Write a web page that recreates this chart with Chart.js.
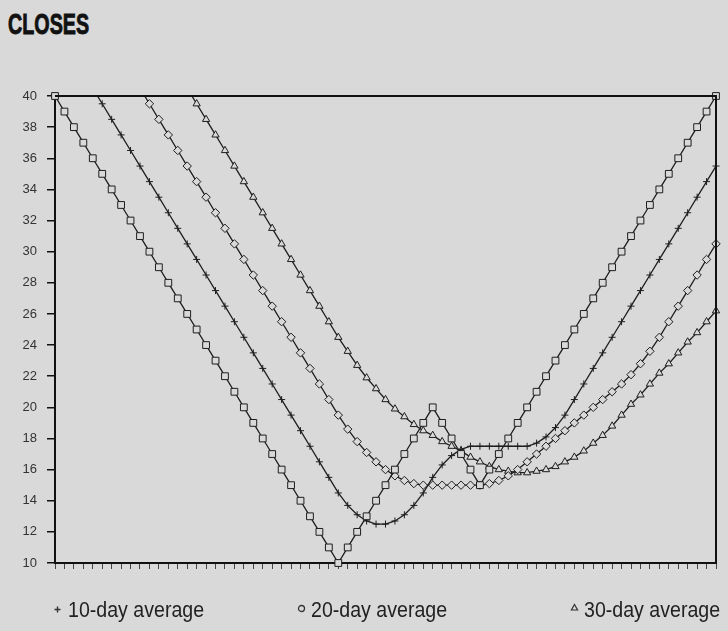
<!DOCTYPE html>
<html>
<head>
<meta charset="utf-8">
<script src="https://cdn.jsdelivr.net/npm/chart.js@4.4.1/dist/chart.umd.min.js"></script>
<style>
  html, body { margin: 0; padding: 0; background: #d9d9d9; }
  #wrap { position: relative; width: 728px; height: 631px; overflow: hidden; }
  #chart { position: absolute; left: 0; top: 0; }
  #title {
    position: absolute; left: 8px; top: 10px; margin: 0;
    font: bold 29px/29px "Liberation Sans", sans-serif;
    color: #111; -webkit-text-stroke: 0.9px #111;
    transform: scaleX(0.68); transform-origin: 0 0;
  }
  .leg {
    position: absolute; top: 599px; font: 22px/22px "Liberation Sans", sans-serif;
    color: #222; white-space: nowrap; transform: scaleX(0.89); transform-origin: 0 0;
  }
  .mark { position: absolute; width: 9px; height: 9px; }
</style>
</head>
<body>
<div id="wrap">
  <div id="title">CLOSES</div>
  <canvas id="chart" width="728" height="631"></canvas>
  <div id="legend"></div>
</div>
<script>
// trading days along the x axis
const days = [0,1,2,3,4,5,6,7,8,9,10,11,12,13,14,15,16,17,18,19,20,
  21,22,23,24,25,26,27,28,29,30,31,32,33,34,35,36,37,38,39,40,
  41,42,43,44,45,46,47,48,49,50,51,52,53,54,55,56,57,58,59,60,
  61,62,63,64,65,66,67,68,69,70];

const closes = [40,39,38,37,36,35,34,33,32,31,30,29,28,27,26,25,24,23,22,21,20,
  19,18,17,16,15,14,13,12,11,10,11,12,13,14,15,16,17,18,19,20,
  19,18,17,16,15,16,17,18,19,20,21,22,23,24,25,26,27,28,29,30,
  31,32,33,34,35,36,37,38,39,40];

const ma10 = [null,null,null,null,40.5,39.5,38.5,37.5,36.5,35.5,34.5,
  33.5,32.5,31.5,30.5,29.5,28.5,27.5,26.5,25.5,24.5,
  23.5,22.5,21.5,20.5,19.5,18.5,17.5,16.5,15.5,14.5,
  13.7,13.1,12.7,12.5,12.5,12.7,13.1,13.7,14.5,15.5,
  16.3,16.9,17.3,17.5,17.5,17.5,17.5,17.5,17.5,17.5,
  17.7,18.1,18.7,19.5,20.5,21.5,22.5,23.5,24.5,25.5,
  26.5,27.5,28.5,29.5,30.5,31.5,32.5,33.5,34.5,35.5];

const ma20 = [null,null,null,null,null,null,null,null,null,40.5,39.5,
  38.5,37.5,36.5,35.5,34.5,33.5,32.5,31.5,30.5,29.5,
  28.5,27.5,26.5,25.5,24.5,23.5,22.5,21.5,20.5,19.5,
  18.6,17.8,17.1,16.5,16.0,15.6,15.3,15.1,15.0,15.0,
  15.0,15.0,15.0,15.0,15.0,15.1,15.3,15.6,16.0,16.5,
  17.0,17.5,18.0,18.5,19.0,19.5,20.0,20.5,21.0,21.5,
  22.1,22.8,23.6,24.5,25.5,26.5,27.5,28.5,29.5,30.5];

const ma30 = [null,null,null,null,null,null,null,null,null,null,null,
  null,null,null,40.5,39.5,38.5,37.5,36.5,35.5,34.5,
  33.5,32.5,31.5,30.5,29.5,28.5,27.5,26.5,25.5,24.5,
  23.6,22.7,21.9,21.2,20.5,19.9,19.4,18.9,18.5,18.2,
  17.8,17.5,17.2,16.8,16.5,16.2,16.0,15.9,15.8,15.8,
  15.9,16.0,16.2,16.5,16.8,17.2,17.7,18.2,18.8,19.5,
  20.2,20.8,21.5,22.2,22.8,23.5,24.2,24.8,25.5,26.2];

const yTicks = [40,38,36,34,32,30,28,26,24,22,20,18,16,14,12,10];

const legendItems = [
  { shape: "plus", label: "10-day average", markX: 53, textX: 68, markY: 605 },
  { shape: "circle", label: "20-day average", markX: 297, textX: 311, markY: 604 },
  { shape: "triangle", label: "30-day average", markX: 570, textX: 584, markY: 603 }
];

const ink = "#1e1e1e";
const paper = "#d9d9d9";

const frame = {
  id: "frame",
  afterDraw(chart) {
    const { ctx, chartArea: a } = chart;
    ctx.save();
    ctx.strokeStyle = "#111";
    ctx.lineWidth = 2;
    ctx.beginPath();
    ctx.moveTo(a.left, a.top);
    ctx.lineTo(a.right, a.top);
    ctx.lineTo(a.right, a.bottom);
    ctx.stroke();
    ctx.restore();
  }
};

const line = (label, data, style, radius, extra) => Object.assign({
  label, data,
  borderColor: ink, borderWidth: 1.3,
  pointStyle: style, pointRadius: radius,
  pointBorderColor: ink, pointBorderWidth: 1,
  pointBackgroundColor: paper,
  tension: 0, spanGaps: false
}, extra || {});

new Chart(document.getElementById("chart"), {
  type: "line",
  data: {
    labels: days,
    datasets: [
      line("Closes", closes, "rect", 4.8, { clip: false }),
      line("10-day average", ma10, "cross", 3.5),
      line("20-day average", ma20, "rectRot", 4.2),
      line("30-day average", ma30, "triangle", 4.2)
    ]
  },
  options: {
    responsive: false,
    animation: false,
    layout: { padding: { top: 96, right: 12, bottom: 58, left: 0 } },
    plugins: { legend: { display: false }, tooltip: { enabled: false } },
    scales: {
      x: {
        type: "category",
        offset: false,
        grid: { drawOnChartArea: false, drawTicks: true, tickLength: 6, color: "#444", lineWidth: 1 },
        border: { display: true, width: 2, color: "#111" },
        ticks: { display: false },
        afterFit: s => { s.height = 10; }
      },
      y: {
        min: 10, max: 40,
        afterBuildTicks: s => { s.ticks = yTicks.map(v => ({ value: v })); },
        grid: { drawOnChartArea: false, drawTicks: true, tickLength: 8, color: "#111", lineWidth: 1.5 },
        border: { display: true, width: 2, color: "#111" },
        ticks: { padding: 10, color: "#333", font: { family: "Liberation Sans", size: 13 } },
        afterFit: s => { s.width = 55; }
      }
    }
  },
  plugins: [frame]
});

const shapes = {
  plus: '<path d="M4.5 1.5V7.5M1.5 4.5H7.5" stroke="#333" stroke-width="1.4" fill="none"/>',
  circle: '<circle cx="4.5" cy="4.5" r="3" stroke="#333" stroke-width="1.3" fill="none"/>',
  triangle: '<path d="M4.5 1.5L7.6 7H1.4Z" stroke="#333" stroke-width="1.2" fill="none"/>'
};

document.getElementById("legend").innerHTML = legendItems.map(it => `
  <svg class="mark" style="left:${it.markX}px;top:${it.markY}px" viewBox="0 0 9 9">${shapes[it.shape]}</svg>
  <span class="leg" style="left:${it.textX}px">${it.label}</span>
`).join("");
</script>
</body>
</html>
